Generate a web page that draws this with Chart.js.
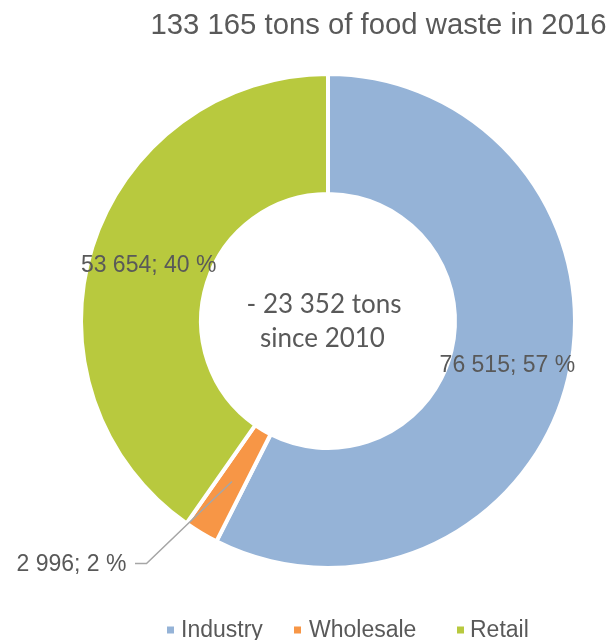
<!DOCTYPE html>
<html>
<head>
<meta charset="utf-8">
<script src="https://cdn.jsdelivr.net/npm/chart.js@4"></script>
<style>
    html, body { margin: 0; padding: 0; background: #ffffff; }
    #wrap { width: 607px; height: 640px; }
</style>
</head>
<body>
<div id="wrap"><canvas id="wasteChart" width="607" height="640"></canvas></div>
<script>
//------------* Data *------------//
var categories = ['Industry', 'Wholesale', 'Retail'];
var tons = [76515, 2996, 53654];
var colours = ['#95B3D7', '#F79646', '#B8C93E'];
var titleText = '133 165 tons of food waste in 2016';
var centreLines = ['- 23 352 tons', 'since 2010'];

var TEXT_GREY = '#595959';
var LABEL_FONT = '23px "Liberation Sans", Arial, sans-serif';

// "76515" -> "76 515"
function spaced(n) {
    return String(n).replace(/\B(?=(\d{3})+(?!\d))/g, ' ');
}

function labelText(i) {
    var total = tons.reduce(function (a, b) { return a + b; }, 0);
    return spaced(tons[i]) + '; ' + Math.round(tons[i] / total * 100) + ' %';
}

//------------* Title, centre text, data labels, legend *------------//
var decorPlugin = {
    id: 'decor',
    afterDatasetsDraw: function (chart) {
        var ctx = chart.ctx;
        var meta = chart.getDatasetMeta(0);
        var cx = meta.data[0].x;
        var cy = meta.data[0].y;

        ctx.save();
        ctx.fillStyle = TEXT_GREY;

        // title
        ctx.font = '29.3px "Liberation Sans", Arial, sans-serif';
        ctx.textAlign = 'center';
        ctx.textBaseline = 'middle';
        ctx.fillText(titleText, 378.5, 26);

        // centre of the hole
        ctx.font = '26px Lato, "Open Sans", sans-serif';
        ctx.fillText(centreLines[0], cx - 4, cy - 16);
        ctx.fillText(centreLines[1], cx - 5.5, cy + 17.5);

        // labels inside the ring (Industry, Retail)
        ctx.font = LABEL_FONT;
        var shift = [[-2.5, 1.5], null, [-1, 1]];
        [0, 2].forEach(function (i) {
            var p = meta.data[i].tooltipPosition();
            ctx.fillText(labelText(i), p.x + shift[i][0], p.y + shift[i][1]);
        });

        // Wholesale label outside with leader line
        var w = meta.data[1].tooltipPosition();
        var lx = 146.5, ly = 563.5;
        ctx.strokeStyle = '#A6A6A6';
        ctx.lineWidth = 1.5;
        ctx.beginPath();
        ctx.moveTo(w.x, w.y);
        ctx.lineTo(lx, ly);
        ctx.lineTo(lx - 11.5, ly);
        ctx.stroke();
        ctx.textAlign = 'right';
        ctx.fillText(labelText(1), 126.5, ly + 1);

        // legend
        var boxX = [167, 294, 457];
        var textX = [181, 309, 470];
        var legY = 630;
        ctx.textAlign = 'left';
        categories.forEach(function (name, i) {
            ctx.fillStyle = colours[i];
            ctx.fillRect(boxX[i], legY - 3.5, 7, 7);
            ctx.fillStyle = TEXT_GREY;
            ctx.fillText(name, textX[i], legY + 1);
        });
        ctx.restore();
    }
};

var wasteChart = new Chart(document.getElementById('wasteChart'), {
    type: 'doughnut',
    data: {
        labels: categories,
        datasets: [{
            data: tons,
            backgroundColor: colours,
            borderColor: '#ffffff',
            borderWidth: 4,
            hoverOffset: 0
        }]
    },
    options: {
        responsive: false,
        animation: false,
        events: [],
        cutout: '51.4%',
        layout: {
            padding: { left: 79, top: 72, right: 30, bottom: 70 }
        },
        plugins: {
            legend: { display: false },
            title: { display: false },
            tooltip: { enabled: false }
        }
    },
    plugins: [decorPlugin]
});
</script>
</body>
</html>
